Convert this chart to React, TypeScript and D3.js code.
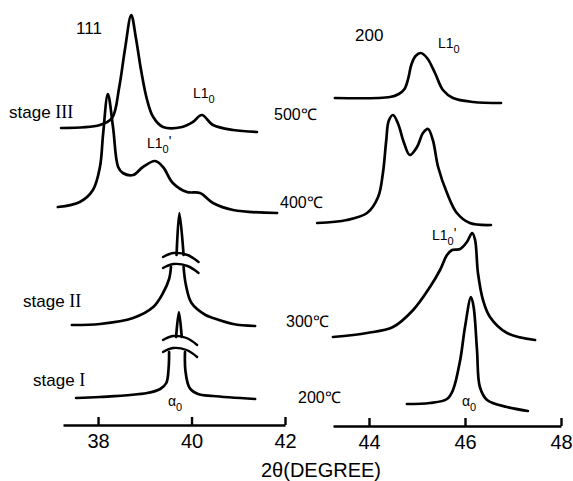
import React, { useEffect, useRef } from 'react'
import * as d3 from 'd3'

type Pt = [number, number] | null

// 2θ (deg), intensity above each trace's own baseline (arb. units)
const left500: Pt[] = [
  [37.21, 0], [38.04, 3], [38.3, 10], [38.45, 40], [38.58, 80], [38.71, 113],
  [38.81, 90], [38.92, 58], [39.05, 28], [39.18, 11], [39.39, 1], [39.8, 1],
  [40.03, 6], [40.22, 13], [40.46, 3], [40.89, -2], [41.4, -4],
]
const left400: Pt[] = [
  [37.14, 0], [37.61, 5], [37.89, 17], [38.04, 40], [38.11, 74], [38.21, 113],
  [38.32, 80], [38.43, 40], [38.53, 34], [38.75, 32], [38.96, 40], [39.22, 46],
  [39.39, 40], [39.6, 24], [39.9, 15], [40.18, 14], [40.46, 4], [40.89, -3], [41.83, -6],
]
const leftStageII: Pt[] = [
  [37.44, 0], [38.04, 1], [38.75, 7], [39.18, 18], [39.39, 32], [39.52, 46], [39.56, 58],
  null,
  [39.68, 70], [39.74, 112], [39.83, 70],
  null,
  [39.83, 58], [39.88, 40], [40.0, 22], [40.3, 10], [40.46, 7], [40.89, 1], [41.36, -1],
]
const leftStageI: Pt[] = [
  [37.53, 0], [38.04, 1], [39.05, 5], [39.33, 9], [39.46, 15], [39.51, 30], [39.52, 46],
  null,
  [39.67, 61], [39.73, 86], [39.79, 61],
  null,
  [39.86, 46], [39.87, 27], [39.96, 10], [40.14, 4], [40.46, 2], [41.36, -1],
]
const right500: Pt[] = [
  [43.29, 0], [44.44, 1], [44.62, 4], [44.74, 9], [44.82, 20], [44.88, 33], [44.97, 42],
  [45.08, 45], [45.21, 40], [45.375, 25], [45.54, 8], [45.75, 0], [46.17, -4], [46.75, -5],
]
const right400: Pt[] = [
  [42.92, 0], [43.54, 3], [43.96, 10], [44.19, 26], [44.29, 50], [44.36, 83],
  [44.41, 102], [44.5, 108], [44.6, 100], [44.73, 80], [44.85, 68], [45.0, 76],
  [45.125, 90], [45.23, 94], [45.33, 83], [45.44, 56], [45.625, 30], [45.83, 10],
  [46.1, 0], [46.54, -2],
]
const right300: Pt[] = [
  [43.25, 0], [43.96, 4], [44.5, 10], [44.92, 27], [45.27, 50], [45.48, 67],
  [45.625, 82], [45.73, 87], [45.9, 88], [46.04, 95], [46.15, 104], [46.21, 97],
  [46.27, 64], [46.375, 37], [46.52, 20], [46.875, 4], [47.46, -3],
]
const right200: Pt[] = [
  [44.79, 0], [45.27, 1], [45.625, 5], [45.75, 14], [45.9, 44], [46.0, 77],
  [46.125, 107], [46.18, 97], [46.25, 54], [46.31, 17], [46.46, 4], [46.875, -3], [47.31, -7],
]

const leftTraces = [left500, left400, leftStageII, leftStageI]
const leftOffsets = [302, 223, 105, 32]
const rightTraces = [right500, right400, right300, right200]
const rightOffsets = [332, 207, 93, 26]

const leftTicks = [38, 40, 42]
const rightTicks = [44, 46, 48]
const leftDomain = [37.25, 42]
const rightDomain = [43.25, 48]

// axis breaks on the stage II / stage I traces: [trace index, from, to, lower level, upper level]
const breaks: [number, number, number, number, number][] = [
  [2, 39.39, 40.15, 57, 68],
  [3, 39.39, 40.12, 46, 58],
]
const breakShape: [number, number][] = [[0, 0], [0.29, 4], [0.69, 2], [1, -5]]

const stageLabels = ['stage III', 'stage II', 'stage I']
const tempLabels = ['500℃', '400℃', '300℃', '200℃']

const FONT = '"Liberation Sans", Arial, Helvetica, sans-serif'

export default function App() {
  const svgRef = useRef<SVGSVGElement>(null)

  useEffect(() => {
    const svg = d3.select(svgRef.current)
    svg.selectAll('*').remove()

    const width = 573
    const height = 481

    svg.attr('viewBox', `0 0 ${width} ${height}`)

    const xL = d3.scaleLinear().domain(leftDomain).range([63, 285])
    const xR = d3.scaleLinear().domain(rightDomain).range([333, 561])
    const y = d3.scaleLinear().domain([0, 420]).range([430, 10])

    const drawTrace = (x: d3.ScaleLinear<number, number>, pts: Pt[], off: number) => {
      const line = d3.line<Pt>()
        .defined(d => d !== null)
        .x(d => x((d as [number, number])[0]))
        .y(d => y(off + (d as [number, number])[1]))
        .curve(d3.curveCatmullRom.alpha(0.5))
      svg.append('path')
        .attr('d', line(pts))
        .attr('fill', 'none')
        .attr('stroke', '#000')
        .attr('stroke-width', 2.7)
        .attr('stroke-linecap', 'round')
        .attr('stroke-linejoin', 'round')
    }

    leftTraces.forEach((t, i) => drawTrace(xL, t, leftOffsets[i]))
    rightTraces.forEach((t, i) => drawTrace(xR, t, rightOffsets[i]))

    // break marks
    const breakLine = d3.line<[number, number]>().curve(d3.curveCatmullRom.alpha(0.5))
    breaks.forEach(([ti, x0, x1, lo, hi]) => {
      const off = leftOffsets[ti]
      ;[lo, hi].forEach(lvl => {
        const pts = breakShape.map(([f, dy]) => [xL(x0 + f * (x1 - x0)), y(off + lvl + dy)] as [number, number])
        svg.append('path')
          .attr('d', breakLine(pts))
          .attr('fill', 'none')
          .attr('stroke', '#000')
          .attr('stroke-width', 2.4)
          .attr('stroke-linecap', 'round')
      })
    })

    // axes
    const drawAxis = (x: d3.ScaleLinear<number, number>, ticks: number[], yPos: number) => {
      const g = svg.append('g').attr('transform', `translate(0,${yPos})`)
      g.call(
        d3.axisBottom(x)
          .tickValues(ticks)
          .tickSizeInner(-8)
          .tickSizeOuter(0)
          .tickPadding(9)
          .tickFormat(d3.format('d'))
      )
      g.select('.domain').attr('stroke', '#000').attr('stroke-width', 2.6)
      g.selectAll('.tick line').attr('stroke', '#000').attr('stroke-width', 2.4)
      g.selectAll('.tick text')
        .attr('fill', '#000')
        .attr('font-size', 20)
        .attr('font-family', FONT)
    }
    drawAxis(xL, leftTicks, 425)
    drawAxis(xR, rightTicks, 426)

    const text = (x: number, yy: number, s: string, size: number, anchor = 'start') =>
      svg.append('text')
        .attr('x', x)
        .attr('y', yy)
        .attr('font-size', size)
        .attr('font-family', FONT)
        .attr('text-anchor', anchor)
        .attr('fill', '#000')
        .text(s)

    text(321, 477, '2θ(DEGREE)', 20, 'middle')
    text(76, 34, '111', 17)
    text(355, 41, '200', 17)

    // stage labels, roman numerals in serif
    const stagePos: [number, number][] = [[9, 118], [23, 307], [33, 386]]
    stageLabels.forEach((s, i) => {
      const [word, roman] = s.split(' ')
      const t = svg.append('text')
        .attr('x', stagePos[i][0])
        .attr('y', stagePos[i][1])
        .attr('font-size', 17)
        .attr('font-family', FONT)
        .attr('fill', '#000')
      t.append('tspan').text(word + ' ')
      t.append('tspan').attr('font-family', '"Liberation Serif", "Times New Roman", serif').attr('font-size', 18).text(roman)
    })

    const tempPos: [number, number][] = [[274, 120], [280, 208], [286, 327], [298, 403]]
    tempLabels.forEach((s, i) => text(tempPos[i][0], tempPos[i][1], s, 16))

    const sub = (x: number, yy: number, main: string, prime = false) => {
      const t = svg.append('text')
        .attr('x', x)
        .attr('y', yy)
        .attr('font-size', 14)
        .attr('font-family', FONT)
        .attr('fill', '#000')
      t.append('tspan').text(main)
      t.append('tspan').attr('font-size', 11).attr('dy', 5).text('0')
      if (prime) t.append('tspan').attr('dy', -7).attr('font-size', 14).text('\'')
    }
    sub(193, 98, 'L1')
    sub(147, 148, 'L1', true)
    sub(438, 48, 'L1')
    sub(432, 240, 'L1', true)
    sub(168, 406, 'α')
    sub(462, 406, 'α')
  }, [])

  return (
    <svg
      ref={svgRef}
      width={573}
      height={481}
      style={{ position: 'absolute', left: 0, top: 0, background: '#fff' }}
    />
  )
}
